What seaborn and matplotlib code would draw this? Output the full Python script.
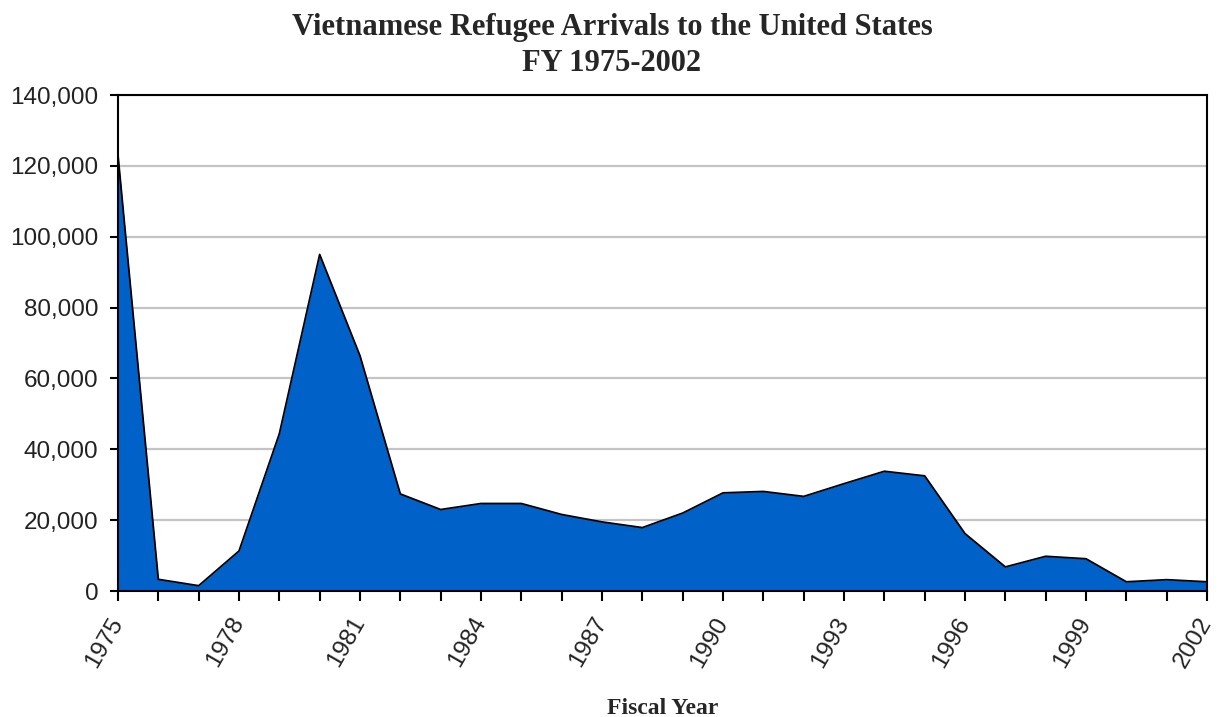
import matplotlib
matplotlib.use("Agg")
import matplotlib.pyplot as plt
import matplotlib.ticker as mticker
import numpy as np
import pandas as pd
import seaborn as sns

# Fiscal years and refugee arrivals
years = list(range(1975, 2003))
arrivals = [123000, 3300, 1500, 11300, 44400, 95000, 66400, 27400,
            23000, 24700, 24700, 21600, 19500, 17900, 22000, 27700,
            28100, 26700, 30300, 33800, 32500, 16200, 6800, 9800,
            9100, 2600, 3200, 2600]
y_ticks = [0, 20000, 40000, 60000, 80000, 100000, 120000, 140000]
x_label_years = list(range(1975, 2003, 3))

title = "Vietnamese Refugee Arrivals to the United States\nFY 1975-2002"
x_title = "Fiscal Year"

df = pd.DataFrame({"year": years, "arrivals": arrivals})

sns.set_style("white")
plt.rcParams["font.family"] = ["Liberation Sans", "DejaVu Sans"]

fig = plt.figure(figsize=(12.19, 7.17), dpi=100)
ax = fig.add_axes([0.0968, 0.1757, 0.8934, 0.6918])

fill_color = "#0062C8"
ax.fill_between(df["year"], df["arrivals"], 0, color=fill_color, linewidth=0, zorder=2)
sns.lineplot(data=df, x="year", y="arrivals", ax=ax, color="black", linewidth=1.3, zorder=3)

ax.set_xlim(1975, 2002)
ax.set_ylim(0, 140000)

ax.set_yticks(y_ticks)
ax.yaxis.set_major_formatter(mticker.FuncFormatter(lambda v, p: f"{int(v):,}"))
ax.yaxis.grid(True, color="#c4c4c4", linewidth=1.6, zorder=1)
ax.set_axisbelow(True)

ax.set_xticks(years, minor=True)
ax.set_xticks(x_label_years)
ax.set_xticklabels([str(y) for y in x_label_years], rotation=60,
                   ha="right", va="center", rotation_mode="anchor")

ax.tick_params(axis="y", which="major", direction="out", length=6, width=1.5,
               labelsize=17.5, colors="black", labelcolor="#222222", pad=8, left=True)
ax.tick_params(axis="x", which="both", direction="out", length=7, width=1.5,
               labelsize=17.5, colors="black", labelcolor="#222222", pad=13, bottom=True)

for side in ["left", "bottom", "top", "right"]:
    ax.spines[side].set_visible(True)
    ax.spines[side].set_color("black")
    ax.spines[side].set_linewidth(1.5)

ax.set_xlabel(x_title, fontsize=17, fontweight="bold",
              family=["Liberation Serif", "DejaVu Serif"], labelpad=19)
ax.set_ylabel("")

fig.text(0.502, 0.982, title, ha="center", va="top", fontsize=22,
         fontweight="bold", family=["Liberation Serif", "DejaVu Serif"],
         linespacing=1.3)

fig.savefig("out.png", dpi=100, facecolor="white")
